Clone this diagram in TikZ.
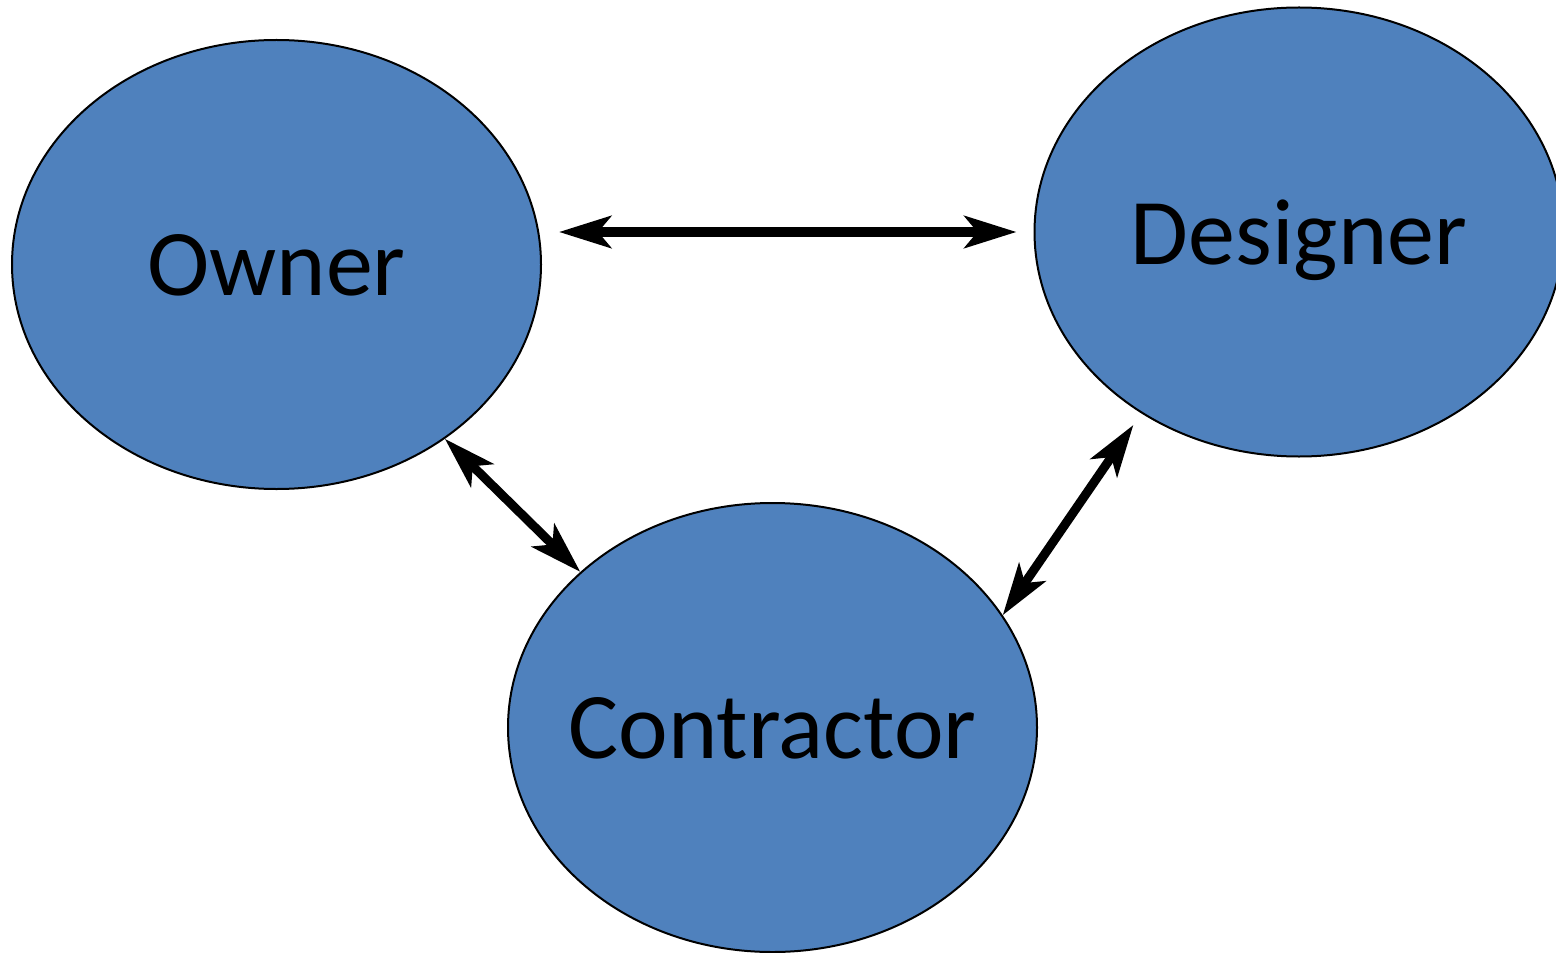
\documentclass[tikz,border=0pt]{standalone}
\usepackage{fontspec}
\setmainfont{Carlito}
\usetikzlibrary{shapes,positioning,calc,arrows.meta}

\begin{document}
\begin{tikzpicture}[x=0.5pt,y=-0.5pt]
		\tikzstyle{party_node}=[draw, ellipse, fill={rgb,255:red,79;green,129;blue,189}, line width=1pt, inner sep=0, minimum width=264.5pt, minimum height=224.5pt];
		\tikzstyle{party_text}=[font=\fontsize{47}{56}\selectfont, text depth=0pt, inner sep=0];
		\tikzstyle{link_arrow}=[line width=4.5pt, {Stealth[length=26pt,width=16pt,inset=6.5pt]}-{Stealth[length=26pt,width=16pt,inset=6.5pt]}];
		
		\useasboundingbox (0,0) rectangle (1556,952);
		
		\node[party_node, label={[party_text]center:Owner}] (owner) at (276.5,264.5) {};
		\node[party_node, label={[party_text]center:Designer}] (designer) at (1299,232) {};
		\node[party_node, label={[party_text]center:Contractor}] (contractor) at (772.5,727.5) {};
		
		\draw[link_arrow, shorten <=8.5pt, shorten >=8.5pt] (owner.east |- designer.west) -- (designer.west);
		\draw[link_arrow] (owner.-46) -- (contractor.141);
		\draw[link_arrow, shorten >=7pt] (contractor.26) -- (designer.-131);
	\end{tikzpicture}
\end{document}
